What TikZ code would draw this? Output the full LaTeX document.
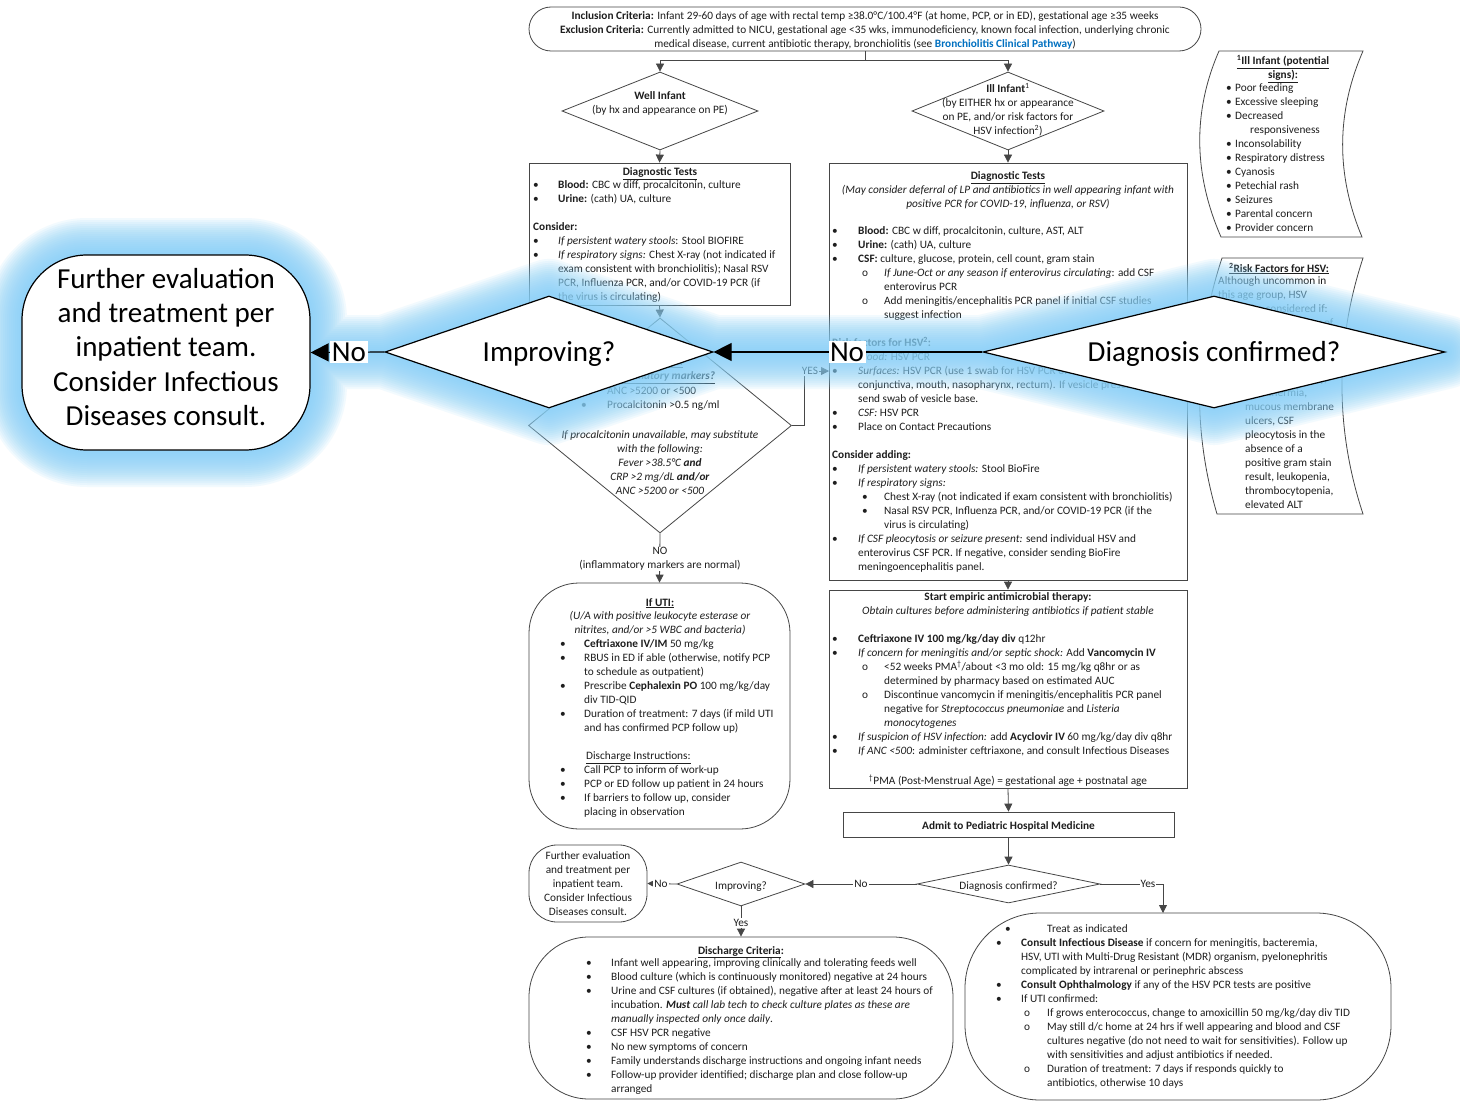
\documentclass[tikz,border=0pt]{standalone}
\usepackage{fontspec}
\setmainfont{Carlito}
\usetikzlibrary{arrows.meta,shapes.geometric,calc}

\definecolor{lc}{RGB}{70,70,70}
\definecolor{tc}{RGB}{30,30,30}
\definecolor{linkblue}{RGB}{0,112,192}
\definecolor{glowc}{RGB}{135,208,248}

\newcommand\fs{\fontsize{11.3}{14}\selectfont}
\newcommand\bigfs{\fontsize{29}{34.3}\selectfont}
\newcommand\Bu[1]{\makebox[#1][l]{\textbullet}}
\newcommand\Ob[1]{\makebox[#1][l]{o}}
\newcommand\Ind[1]{\hspace*{#1}}

\tikzset{
  ln/.style={draw=lc, line width=0.8pt},
  arr/.style={ln, -{Triangle[length=8pt,width=8pt]}},
  frame/.style={draw=lc, line width=0.8pt, fill=white, inner sep=0pt},
  dia/.style={frame, diamond},
  body/.style={font=\fs, text=tc, align=left, inner sep=0pt, anchor=north west, yshift=8.4pt, execute at begin node=\strut},
  cbody/.style={body, align=center, anchor=north},
  oneline/.style={font=\fs, text=tc, inner sep=0pt, anchor=base, yshift=-1pt},
  lbl/.style={font=\fs, text=tc, fill=white, inner sep=1pt},
  bigframe/.style={draw=black, line width=1.2pt, fill=white, inner sep=0pt},
  bigarr/.style={draw=black, line width=1.2pt, -{Triangle[length=18pt,width=18pt]}},
  biglbl/.style={font=\bigfs, text=black, fill=white, inner sep=1.5pt},
  bigbody/.style={font=\bigfs, text=black, align=center, inner sep=0pt, anchor=north, yshift=24pt, execute at begin node=\strut},
}

\begin{document}
\begin{tikzpicture}[x=1pt,y=-1pt]
\useasboundingbox (0,0) rectangle (1460,1105);
\fill[white] (0,0) rectangle (1460,1105);

% ---------- entry criteria ----------
\node[frame, rounded corners=22pt, minimum width=672pt, minimum height=44pt] (top) at (865,29) {};
\node[cbody] (toptxt) at (865,19) {\textbf{Inclusion Criteria:} Infant 29-60 days of age with rectal temp ≥38.0°C/100.4°F (at home, PCP, or in ED), gestational age ≥35 weeks\\
\textbf{Exclusion Criteria:} Currently admitted to NICU, gestational age <35 wks, immunodeficiency, known focal infection, underlying chronic\\
medical disease, current antibiotic therapy, bronchiolitis (see \textcolor{linkblue}{\textbf{Bronchiolitis Clinical Pathway}})};

% ---------- first decision ----------
\node[dia, minimum width=196pt, minimum height=78pt] (well) at (660,111) {};
\node[cbody] (welltxt) at (660,100) {\textbf{Well Infant}\\(by hx and appearance on PE)};
\node[dia, minimum width=192pt, minimum height=78pt] (ill) at (1008,111) {};
\node[cbody] (illtxt) at (1008,92) {\textbf{Ill Infant}\textsuperscript{1}\\(by EITHER hx or appearance\\on PE, and/or risk factors for\\HSV infection\textsuperscript{2})};

% ---------- well infant branch ----------
\node[frame, minimum width=261pt, minimum height=142pt] (ldt) at (659.5,234) {};
\node[oneline] (ldthd) at (660,175) {\textbf{\underline{Diagnostic Tests}}};
\node[body] (ldttxt) at (533,189) {\Bu{25pt}\textbf{Blood:} CBC w diff, procalcitonin, culture\\
\Bu{25pt}\textbf{Urine:} (cath) UA, culture\\
\\
\textbf{Consider:}\\
\Bu{25pt}\textit{If persistent watery stools}: Stool BIOFIRE\\
\Bu{25pt}\textit{If respiratory signs:} Chest X-ray (not indicated if\\
\Ind{25pt}exam consistent with bronchiolitis); Nasal RSV\\
\Ind{25pt}PCR, Influenza PCR, and/or COVID-19 PCR (if\\
\Ind{25pt}the virus is circulating)};

\node[dia, minimum width=263pt, minimum height=215pt] (mk) at (660,425.5) {};
\node[cbody] (mkhd) at (660,366) {\textbf{\textit{\underline{Abnormal}}}\\\textbf{\textit{\underline{inflammatory markers?}}}};
\node[body] (mktxt) at (581,395) {\Bu{26pt}ANC >5200 or <500\\\Bu{26pt}Procalcitonin >0.5 ng/ml};
\node[cbody] (mkalt) at (660,439) {\textit{If procalcitonin unavailable, may substitute}\\
\textit{with the following:}\\
\textit{Fever >38.5°C \textbf{and}}\\
\textit{CRP >2 mg/dL \textbf{and/or}}\\
\textit{ANC >5200 or <500}};

\node[frame, rounded corners=50pt, minimum width=261pt, minimum height=246pt] (uti) at (659.5,706) {};
\node[oneline] (utihd) at (660,605) {\textbf{\underline{If UTI:}}};
\node[cbody] (utidef) at (660,619) {\textit{(U/A with positive leukocyte esterase or}\\\textit{nitrites, and/or >5 WBC and bacteria)}};
\node[body] (utitxt) at (560,648) {\Bu{24pt}\textbf{Ceftriaxone IV/IM} 50 mg/kg\\
\Bu{24pt}RBUS in ED if able (otherwise, notify PCP\\
\Ind{24pt}to schedule as outpatient)\\
\Bu{24pt}Prescribe \textbf{Cephalexin PO} 100 mg/kg/day\\
\Ind{24pt}div TID-QID\\
\Bu{24pt}Duration of treatment: 7 days (if mild UTI\\
\Ind{24pt}and has confirmed PCP follow up)\\
\\
\Ind{26pt}\underline{Discharge Instructions:}\\
\Bu{24pt}Call PCP to inform of work-up\\
\Bu{24pt}PCP or ED follow up patient in 24 hours\\
\Bu{24pt}If barriers to follow up, consider\\
\Ind{24pt}placing in observation};

% ---------- ill infant branch ----------
\node[frame, minimum width=358pt, minimum height=417pt] (rdt) at (1008,371.5) {};
\node[oneline] (rdthd) at (1008,179) {\textbf{\underline{Diagnostic Tests}}};
\node[cbody] (rdtnote) at (1008,193) {\textit{(May consider deferral of LP and antibiotics in well appearing infant with}\\\textit{positive PCR for COVID-19, influenza, or RSV)}};
\node[body] (rdttxt) at (832,235) {\Bu{26pt}\textbf{Blood:} CBC w diff, procalcitonin, culture, AST, ALT\\
\Bu{26pt}\textbf{Urine:} (cath) UA, culture\\
\Bu{26pt}\textbf{CSF:} culture, glucose, protein, cell count, gram stain\\
\Ind{30pt}\Ob{22pt}\textit{If June-Oct or any season if enterovirus circulating}: add CSF\\
\Ind{52pt}enterovirus PCR\\
\Ind{30pt}\Ob{22pt}Add meningitis/encephalitis PCR panel if initial CSF studies\\
\Ind{52pt}suggest infection\\
\\
\textbf{Risk factors for HSV\textsuperscript{2}:}\\
\Bu{26pt}\textit{Blood:} HSV PCR\\
\Bu{26pt}\textit{Surfaces:} HSV PCR (use 1 swab for HSV PCR of\\
\Ind{26pt}conjunctiva, mouth, nasopharynx, rectum). If vesicle present,\\
\Ind{26pt}send swab of vesicle base.\\
\Bu{26pt}\textit{CSF:} HSV PCR\\
\Bu{26pt}Place on Contact Precautions\\
\\
\textbf{Consider adding:}\\
\Bu{26pt}\textit{If persistent watery stools:} Stool BioFire\\
\Bu{26pt}\textit{If respiratory signs:}\\
\Ind{30pt}\Bu{22pt}Chest X-ray (not indicated if exam consistent with bronchiolitis)\\
\Ind{30pt}\Bu{22pt}Nasal RSV PCR, Influenza PCR, and/or COVID-19 PCR (if the\\
\Ind{52pt}virus is circulating)\\
\Bu{26pt}\textit{If CSF pleocytosis or seizure present:} send individual HSV and\\
\Ind{26pt}enterovirus CSF PCR. If negative, consider sending BioFire\\
\Ind{26pt}meningoencephalitis panel.};

\node[frame, minimum width=358pt, minimum height=198pt] (abx) at (1008,689) {};
\node[cbody] (abxhd) at (1008,601) {\textbf{Start empiric antimicrobial therapy:}\\\textit{Obtain cultures before administering antibiotics if patient stable}};
\node[body] (abxtxt) at (832,643) {\Bu{26pt}\textbf{Ceftriaxone IV 100 mg/kg/day div} q12hr\\
\Bu{26pt}\textit{If concern for meningitis and/or septic shock:} Add \textbf{Vancomycin IV}\\
\Ind{30pt}\Ob{22pt}<52 weeks PMA\textsuperscript{†}/about <3 mo old: 15 mg/kg q8hr or as\\
\Ind{52pt}determined by pharmacy based on estimated AUC\\
\Ind{30pt}\Ob{22pt}Discontinue vancomycin if meningitis/encephalitis PCR panel\\
\Ind{52pt}negative for \textit{Streptococcus pneumoniae} and \textit{Listeria}\\
\Ind{52pt}\textit{monocytogenes}\\
\Bu{26pt}\textit{If suspicion of HSV infection:} add \textbf{Acyclovir IV} 60 mg/kg/day div q8hr\\
\Bu{26pt}\textit{If ANC <500}: administer ceftriaxone, and consult Infectious Diseases};
\node[oneline] (pma) at (1008,783) {\textsuperscript{†}PMA (Post-Menstrual Age) = gestational age + postnatal age};

\node[frame, minimum width=331pt, minimum height=25pt] (adm) at (1008.5,824.5) {};
\node[oneline] (admtxt) at (1008.5,828.5) {\textbf{Admit to Pediatric Hospital Medicine}};

% ---------- inpatient course ----------
\node[dia, minimum width=183pt, minimum height=38pt] (dx) at (1008.5,884) {};
\node[oneline] (dxtxt) at (1008.5,888) {Diagnosis confirmed?};
\node[dia, minimum width=128pt, minimum height=44pt] (imp) at (741,884) {};
\node[oneline] (imptxt) at (741,888) {Improving?};
\node[frame, rounded corners=28pt, minimum width=118pt, minimum height=77pt] (fe) at (588,883.5) {};
\node[cbody] (fetxt) at (588,860) {Further evaluation\\and treatment per\\inpatient team.\\Consider Infectious\\Diseases consult.};

\node[frame, rounded corners=60pt, minimum width=424pt, minimum height=162pt] (dc) at (741,1018) {};
\node[oneline] (dchd) at (741,953) {\textbf{\underline{Discharge Criteria}:}};
\node[body] (dctxt) at (586,967) {\Bu{25pt}Infant well appearing, improving clinically and tolerating feeds well\\
\Bu{25pt}Blood culture (which is continuously monitored) negative at 24 hours\\
\Bu{25pt}Urine and CSF cultures (if obtained), negative after at least 24 hours of\\
\Ind{25pt}incubation. \textit{\textbf{Must} call lab tech to check culture plates as these are}\\
\Ind{25pt}\textit{manually inspected only once daily}.\\
\Bu{25pt}CSF HSV PCR negative\\
\Bu{25pt}No new symptoms of concern\\
\Bu{25pt}Family understands discharge instructions and ongoing infant needs\\
\Bu{25pt}Follow-up provider identified; discharge plan and close follow-up\\
\Ind{25pt}arranged};

\node[frame, rounded corners=75pt, minimum width=426pt, minimum height=187pt] (tr) at (1178,1006.5) {};
\node[body] (trtxt) at (996,933) {\Ind{9pt}\Bu{42pt}Treat as indicated\\
\Bu{25pt}\textbf{Consult Infectious Disease} if concern for meningitis, bacteremia,\\
\Ind{25pt}HSV, UTI with Multi-Drug Resistant (MDR) organism, pyelonephritis\\
\Ind{25pt}complicated by intrarenal or perinephric abscess\\
\Bu{25pt}\textbf{Consult Ophthalmology} if any of the HSV PCR tests are positive\\
\Bu{25pt}If UTI confirmed:\\
\Ind{28pt}\Ob{23pt}If grows enterococcus, change to amoxicillin 50 mg/kg/day div TID\\
\Ind{28pt}\Ob{23pt}May still d/c home at 24 hrs if well appearing and blood and CSF\\
\Ind{51pt}cultures negative (do not need to wait for sensitivities). Follow up\\
\Ind{51pt}with sensitivities and adjust antibiotics if needed.\\
\Ind{28pt}\Ob{23pt}Duration of treatment: 7 days if responds quickly to\\
\Ind{51pt}antibiotics, otherwise 10 days};

% ---------- side notes ----------
\draw[frame] (1219,51) -- (1363,51) .. controls (1336,113) and (1336,175) .. (1362,237)
  -- (1221,237) .. controls (1194,175) and (1192,113) .. (1219,51) -- cycle;
\node[cbody] (illhd) at (1283,64) {\textbf{\underline{\textsuperscript{1}Ill Infant (potential}}\\\textbf{\underline{signs):}}};
\node[body] (illtxt2) at (1226,92) {\Bu{9pt}Poor feeding\\
\Bu{9pt}Excessive sleeping\\
\Bu{9pt}Decreased\\
\Ind{24pt}responsiveness\\
\Bu{9pt}Inconsolability\\
\Bu{9pt}Respiratory distress\\
\Bu{9pt}Cyanosis\\
\Bu{9pt}Petechial rash\\
\Bu{9pt}Seizures\\
\Bu{9pt}Parental concern\\
\Bu{9pt}Provider concern};

\draw[frame] (1222,258) -- (1363,258) .. controls (1335,343) and (1335,429) .. (1363,514)
  -- (1217,514) .. controls (1192,429) and (1194,343) .. (1222,258) -- cycle;
\node[oneline] (hsvhd) at (1279,271) {\textbf{\underline{\textsuperscript{2}Risk Factors for HSV:}}};
\node[body] (hsvtxt) at (1218,285) {Although uncommon in\\
this age group, HSV\\
should be considered if:\\
\Ind{12pt}\Bu{15pt}Maternal history of\\
\Ind{27pt}genital HSV lesions\\
\Ind{27pt}or peripartum fever\\
\Ind{12pt}\Bu{15pt}Infant with vesicles,\\
\Ind{27pt}seizures, lethargy,\\
\Ind{27pt}hypothermia,\\
\Ind{27pt}mucous membrane\\
\Ind{27pt}ulcers, CSF\\
\Ind{27pt}pleocytosis in the\\
\Ind{27pt}absence of a\\
\Ind{27pt}positive gram stain\\
\Ind{27pt}result, leukopenia,\\
\Ind{27pt}thrombocytopenia,\\
\Ind{27pt}elevated ALT};

% ---------- connectors ----------
\coordinate (split) at (865,60);
\draw[ln] (top.south) -- (split);
\draw[arr] (split) -| (well.north);
\draw[arr] (split) -| (ill.north);
\draw[arr] (well.south) -- (ldt.north);
\draw[arr] (ldt.south) -- (mk.north);
\coordinate (yesin) at (829,371);
\draw[arr] (mk.east) -- ++(12,0) |- (yesin);
\node[lbl] (yeslbl) at (810,371) {YES};
\draw[arr] (mk.south) -- (uti.north);
\node[lbl, align=center, inner sep=0.5pt] (nolbl) at (660,559) {NO\\(inflammatory markers are normal)};
\draw[arr] (ill.south) -- (rdt.north);
\draw[arr] (rdt.south) -- (abx.north);
\draw[arr] (abx.south) -- (adm.north);
\draw[arr] (adm.south) -- (dx.north);
\draw[arr] (dx.west) -- (imp.east);
\node[lbl] (dxno) at (861,884) {No};
\coordinate (yesdn) at (1163,913);
\draw[arr] (dx.east) -| (yesdn);
\node[lbl] (dxyes) at (1148,884) {Yes};
\draw[arr] (imp.west) -- (fe.east);
\node[lbl] (impno) at (661,884) {No};
\draw[arr] (imp.south) -- (dc.north);
\node[lbl] (impyes) at (741,923) {Yes};

% ---------- enlarged inpatient decision row with halo ----------
\def\halopath{{[rounded corners=65pt] (22,255) rectangle (310,450)}
  (385,352) -- (549,296) -- (713,352) -- (549,408) -- cycle
  (983,352) -- (1214,296) -- (1445,352) -- (1214,408) -- cycle
  (310,352) -- (983,352)}
\foreach \w in {74,70,...,6} {
  \draw[glowc, line width=\w pt, opacity=0.1, line join=round, line cap=round] \halopath;
}

\node[bigframe, rounded corners=65pt, minimum width=288pt, minimum height=195pt] (bigfe) at (166,352.5) {};
\node[bigbody] (bigfetxt) at (166,292) {Further evaluation\\and treatment per\\inpatient team.\\Consider Infectious\\Diseases consult.};
\node[bigframe, diamond, minimum width=328pt, minimum height=112pt] (bigimp) at (549,352) {};
\node[font=\bigfs, inner sep=0pt, anchor=base] (bigimptxt) at (549,361) {Improving?};
\node[bigframe, diamond, minimum width=462pt, minimum height=112pt] (bigdx) at (1214,352) {};
\node[font=\bigfs, inner sep=0pt, anchor=base] (bigdxtxt) at (1214,361) {Diagnosis confirmed?};
\draw[bigarr] (bigimp.west) -- (bigfe.east);
\node[biglbl] (bigno1) at (349,352) {No};
\draw[bigarr] (bigdx.west) -- (bigimp.east);
\node[biglbl] (bigno2) at (847,352) {No};
\end{tikzpicture}
\end{document}
